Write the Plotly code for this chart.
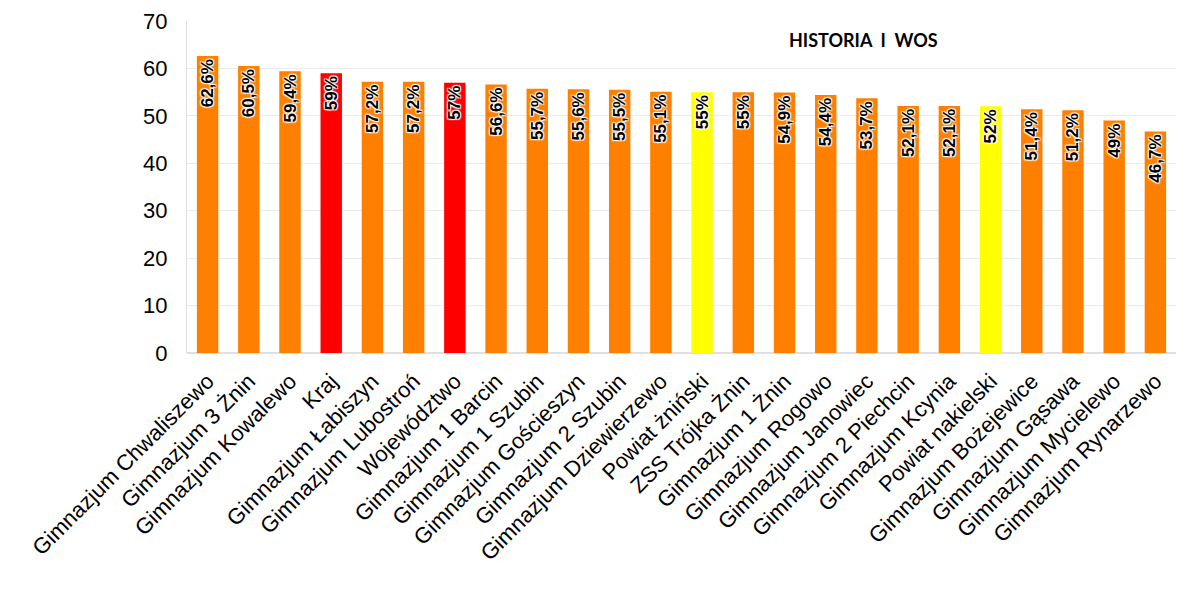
import plotly.graph_objects as go

categories = ["Gimnazjum Chwaliszewo", "Gimnazjum 3 Żnin", "Gimnazjum Kowalewo", "Kraj",
              "Gimnazjum Łabiszyn", "Gimnazjum Lubostroń", "Województwo", "Gimnazjum 1 Barcin",
              "Gimnazjum 1 Szubin", "Gimnazjum Gościeszyn", "Gimnazjum 2 Szubin",
              "Gimnazjum Dziewierzewo", "Powiat żniński", "ZSS Trójka Żnin", "Gimnazjum 1 Żnin",
              "Gimnazjum Rogowo", "Gimnazjum Janowiec", "Gimnazjum 2 Piechcin", "Gimnazjum Kcynia",
              "Powiat nakielski", "Gimnazjum Bożejewice", "Gimnazjum Gąsawa",
              "Gimnazjum Mycielewo", "Gimnazjum Rynarzewo"]
values = [62.6, 60.5, 59.4, 59, 57.2, 57.2, 57, 56.6, 55.7, 55.6, 55.5, 55.1, 55, 55, 54.9,
          54.4, 53.7, 52.1, 52.1, 52, 51.4, 51.2, 49, 46.7]
labels = ["62,6%", "60,5%", "59,4%", "59%", "57,2%", "57,2%", "57%", "56,6%", "55,7%", "55,6%",
          "55,5%", "55,1%", "55%", "55%", "54,9%", "54,4%", "53,7%", "52,1%", "52,1%", "52%",
          "51,4%", "51,2%", "49%", "46,7%"]
kinds = ["s", "s", "s", "k", "s", "s", "w", "s", "s", "s", "s", "s", "p", "s", "s", "s", "s",
         "s", "s", "p", "s", "s", "s", "s"]
palette = {"s": "#FF8000", "k": "#FF0000", "w": "#FF0000", "p": "#FFFF00"}
colors = [palette[k] for k in kinds]

fig = go.Figure(go.Bar(
    x=categories, y=values, text=labels,
    marker=dict(color=colors, line=dict(width=0)),
    width=0.52,
    textposition="inside", insidetextanchor="end", textangle=-90,
    textfont=dict(family="Liberation Sans, Arial", size=17, color="black",
                  weight="bold",
                  shadow="1px 1px 1px white, -1px -1px 1px white, 1px -1px 1px white, -1px 1px 1px white"),
    cliponaxis=False,
))

# page body has an 8px offset, so margins are compensated
fig.update_layout(
    width=1200, height=603,
    margin=dict(l=179, r=32, t=13, b=258),
    plot_bgcolor="white", paper_bgcolor="white",
    showlegend=False,
    font=dict(family="Liberation Sans, Arial", color="black"),
    xaxis=dict(tickangle=-45, tickfont=dict(size=22, color="black"), automargin=False,
               showline=False, ticks="", showgrid=False, ticklabelstandoff=10),
    yaxis=dict(range=[0, 70], dtick=10, tickfont=dict(size=22, color="black"), automargin=False,
               showgrid=True, gridcolor="#ebebeb", zeroline=True, zerolinecolor="#e0e0e0",
               showline=True, linecolor="#e0e0e0", ticklabeloverflow="allow",
               ticks="", ticklabelstandoff=14),
    uniformtext=dict(minsize=17, mode="show"),
    annotations=[dict(text="<b>HISTORIA  I  WOS</b>", x=(863 - 187) / (1176 - 187), y=0.943,
                      xref="paper", yref="paper", showarrow=False, xanchor="center",
                      yanchor="middle",
                      font=dict(family="Lato, sans-serif", size=18, color="black"))],
)

fig.write_html("out.html")
